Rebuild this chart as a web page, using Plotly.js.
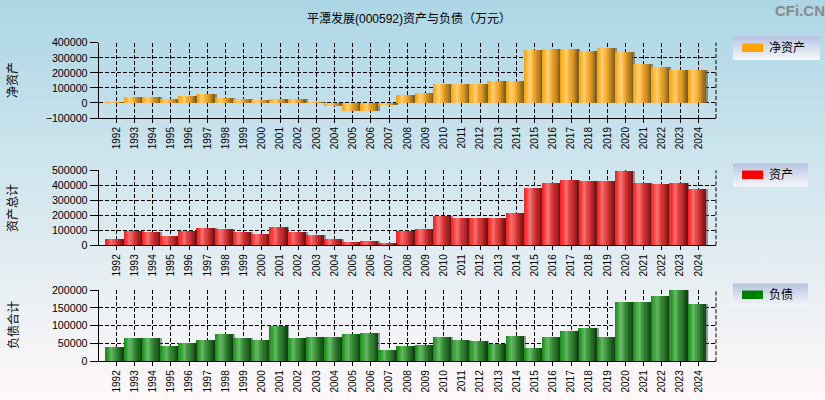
<!DOCTYPE html>
<html>
<head>
<meta charset="utf-8">
<script src="https://cdn.plot.ly/plotly-3.0.1.min.js"></script>
<style>html,body{margin:0;padding:0;background:#cfe5ee;}#chart{width:825px;height:400px;}</style>
</head>
<body>
<div id="chart"></div>
<script>
// ---- data (万元) ----
const years = ['1992','1993','1994','1995','1996','1997','1998','1999','2000','2001','2002',
  '2003','2004','2005','2006','2007','2008','2009','2010','2011','2012','2013','2014','2015',
  '2016','2017','2018','2019','2020','2021','2022','2023','2024'];
const netAssets = [8000, 38000, 38000, 29000, 49000, 62000, 36000, 29000, 22000, 29000, 29000,
  9000, -20000, -53000, -53000, -13000, 55000, 69000, 129000, 129000, 129000, 144000, 149000, 349000,
  356000, 356000, 342000, 362000, 336000, 256000, 236000, 222000, 222000];
const totalAssets = [42000, 96000, 89000, 62000, 98000, 116000, 109000, 89000, 76000, 122000, 89000,
  69000, 42000, 22000, 29000, 16000, 96000, 109000, 196000, 182000, 182000, 182000, 216000, 382000,
  416000, 436000, 429000, 429000, 496000, 416000, 409000, 416000, 376000];
const totalLiabilities = [40000, 65400, 65400, 43000, 51400, 59800, 76600, 65400, 59800, 100000, 65400,
  68200, 68200, 76600, 79400, 31800, 43000, 45800, 68200, 59800, 57000, 48600, 71000, 37400,
  68200, 85000, 93500, 68200, 166000, 166000, 183000, 200000, 160700];
const seriesNames = ['净资产', '资产', '负债'];
const axisTitles = ['净资产', '资产总计', '负债合计'];
const chartTitle = '平潭发展(000592)资产与负债（万元）';

// ---- styling ----
const W = 825, H = 400;
const px = v => v / W;            // x pixel -> paper
const py = v => 1 - v / H;        // y pixel -> paper
const FONT = 'Liberation Sans, Arial, Noto Sans CJK SC, sans-serif';
const CJK = 'Liberation Sans, Noto Sans CJK SC, sans-serif';

const gradients = [
  [[0,'#f7a000'],[0.14,'#ffb22a'],[0.32,'#ffd27c'],[0.5,'#fbb034'],[0.7,'#d49424'],[0.87,'#a47828'],[1,'#765818']],
  [[0,'#ff1c1c'],[0.14,'#ff3434'],[0.32,'#f57878'],[0.5,'#e84444'],[0.7,'#c02c2c'],[0.87,'#942020'],[1,'#6a1010']],
  [[0,'#0e900e'],[0.14,'#2ea02e'],[0.34,'#6cb66c'],[0.52,'#3c963c'],[0.72,'#2a742a'],[0.88,'#1e561e'],[1,'#133a13']]
];
const swatchColors = ['#ffa500', '#ff0000', '#008000'];

function hex2rgb(h){return [parseInt(h.slice(1,3),16),parseInt(h.slice(3,5),16),parseInt(h.slice(5,7),16)];}
function colorAt(stops, t){
  for (let i = 1; i < stops.length; i++) {
    if (t <= stops[i][0]) {
      const a = stops[i-1], b = stops[i];
      const f = (t - a[0]) / (b[0] - a[0]);
      const ca = hex2rgb(a[1]), cb = hex2rgb(b[1]);
      const c = ca.map((v,k) => Math.round(v + (cb[k]-v)*f));
      return 'rgb(' + c.join(',') + ')';
    }
  }
  return stops[stops.length-1][1];
}

const panels = [
  {values: netAssets,        xa: 'x',  ya: 'y',  dom: [py(118), py(42.7)],  range: [-100000, 400000], dtick: 100000},
  {values: totalAssets,      xa: 'x2', ya: 'y2', dom: [py(245.3), py(170.3)], range: [0, 500000], dtick: 100000},
  {values: totalLiabilities, xa: 'x3', ya: 'y3', dom: [py(361.3), py(290)],   range: [0, 200000], dtick: 50000}
];

const K = 16;
const BAR_OFFSET = -0.6;
const traces = [];
panels.forEach((p, pi) => {
  // shadow
  traces.push({
    type: 'bar', x: years, y: p.values, xaxis: p.xa, yaxis: p.ya,
    offset: BAR_OFFSET + 0.11, width: 1.0,
    marker: {color: 'rgba(70,80,90,0.55)', line: {width: 0}},
    showlegend: false, hoverinfo: 'skip'
  });
  for (let i = 0; i < K; i++) {
    const t = (i + 0.5) / K;
    traces.push({
      type: 'bar', x: years, y: p.values, xaxis: p.xa, yaxis: p.ya,
      name: seriesNames[pi],
      offset: BAR_OFFSET + i / K, width: 1 / K + 0.012,
      marker: {color: colorAt(gradients[pi], t), line: {width: 0}},
      showlegend: false, hoverinfo: 'skip'
    });
  }
});

const xDomain = [px(98.7), px(716)];
function xAxis(){
  return {
    type: 'category', range: [-0.97, 32.97], domain: xDomain,
    tickangle: -90, tickfont: {family: FONT, size: 10, color: '#000'},
    showgrid: true, gridcolor: '#000', griddash: '4px,2px', gridwidth: 1,
    showline: true, linecolor: '#000', linewidth: 1,
    ticks: 'outside', ticklen: 4, tickcolor: '#000', tickwidth: 1,
    automargin: false, fixedrange: true
  };
}
function yAxis(p){
  return {
    domain: p.dom, anchor: p.xa, range: p.range, dtick: p.dtick, tick0: 0,
    tickformat: 'd', tickfont: {family: FONT, size: 10.7, color: '#000'},
    showgrid: true, gridcolor: '#000', griddash: '4px,2px', gridwidth: 1,
    zeroline: false, showline: true, linecolor: '#000', linewidth: 1,
    ticks: 'outside', ticklen: 8, tickcolor: '#000', tickwidth: 1,
    automargin: false, fixedrange: true
  };
}

const bgSvg = "<svg xmlns='http://www.w3.org/2000/svg' width='100' height='100' viewBox='0 0 100 100' preserveAspectRatio='none'>" +
  "<defs><linearGradient id='g' x1='0' y1='0' x2='0' y2='1'><stop offset='0' stop-color='#acd6e5'/>" +
  "<stop offset='0.5' stop-color='#d6e8ef'/><stop offset='1' stop-color='#fff8f8'/></linearGradient></defs>" +
  "<rect width='100' height='100' fill='url(#g)'/></svg>";
const legSvg = "<svg xmlns='http://www.w3.org/2000/svg' width='100' height='100' viewBox='0 0 100 100' preserveAspectRatio='none'>" +
  "<defs><linearGradient id='g' x1='0' y1='0' x2='0' y2='1'><stop offset='0' stop-color='#b6c4e0'/>" +
  "<stop offset='1' stop-color='#f7f7fb'/></linearGradient></defs>" +
  "<rect width='100' height='100' fill='url(#g)'/></svg>";
const uri = s => 'data:image/svg+xml;charset=utf-8,' + encodeURIComponent(s);

// legend boxes (pixel layout)
const legendBoxes = [
  {x0: 733, x1: 820, y0: 36,    y1: 60,    sy0: 43.5,  sy1: 52,    ty: 48},
  {x0: 733, x1: 808, y0: 163.3, y1: 186.7, sy0: 170.5, sy1: 179,   ty: 175},
  {x0: 733, x1: 808, y0: 283.3, y1: 306.7, sy0: 290.5, sy1: 299,   ty: 295}
];

const images = [{source: uri(bgSvg), xref: 'paper', yref: 'paper', x: 0, y: 1, sizex: 1, sizey: 1,
  sizing: 'stretch', xanchor: 'left', yanchor: 'top', layer: 'below'}];
const shapes = [];
const annotations = [];

legendBoxes.forEach((b, i) => {
  images.push({source: uri(legSvg), xref: 'paper', yref: 'paper', x: px(b.x0), y: py(b.y0),
    sizex: px(b.x1 - b.x0), sizey: (b.y1 - b.y0) / H, sizing: 'stretch',
    xanchor: 'left', yanchor: 'top', layer: 'below'});
  shapes.push({type: 'rect', xref: 'paper', yref: 'paper', x0: px(742), x1: px(763),
    y0: py(b.sy1), y1: py(b.sy0), fillcolor: swatchColors[i], line: {width: 0}});
  annotations.push({xref: 'paper', yref: 'paper', x: px(767), y: py(b.ty), xanchor: 'left', yanchor: 'middle',
    text: seriesNames[i], showarrow: false, font: {family: CJK, size: 12, color: '#000'}});
});

// right-edge dashed boundary of each plot
panels.forEach((p) => {
  shapes.push({type: 'line', xref: p.xa + ' domain', yref: p.ya + ' domain', x0: 1, x1: 1, y0: 0, y1: 1,
    line: {color: '#000', width: 1, dash: '4px,2px'}});
});

// axis titles
const titleY = [80, 208, 325];
axisTitles.forEach((t, i) => {
  annotations.push({xref: 'paper', yref: 'paper', x: px(13), y: py(titleY[i]), xanchor: 'center', yanchor: 'middle',
    text: t, textangle: -90, showarrow: false, font: {family: CJK, size: 12, color: '#000'}});
});

// chart title & watermark
annotations.push({xref: 'paper', yref: 'paper', x: px(409), y: py(18), xanchor: 'center', yanchor: 'middle',
  text: chartTitle, showarrow: false, font: {family: CJK, size: 12, color: '#000'}});
annotations.push({xref: 'paper', yref: 'paper', x: px(800), y: py(10), xanchor: 'center', yanchor: 'middle',
  text: '<b>CFi.CN</b>', showarrow: false, font: {family: FONT, size: 15, color: '#8a8a8a'}});

const layout = {
  width: W, height: H,
  margin: {l: 0, r: 0, t: 0, b: 0, pad: 0},
  paper_bgcolor: '#cfe5ee', plot_bgcolor: 'rgba(0,0,0,0)',
  barmode: 'overlay', bargap: 0,
  showlegend: false, hovermode: false,
  xaxis: xAxis(), xaxis2: Object.assign(xAxis(), {anchor: 'y2'}), xaxis3: Object.assign(xAxis(), {anchor: 'y3'}),
  yaxis: yAxis(panels[0]), yaxis2: yAxis(panels[1]), yaxis3: yAxis(panels[2]),
  images: images, shapes: shapes, annotations: annotations
};
layout.xaxis.anchor = 'y';

Plotly.newPlot('chart', traces, layout, {staticPlot: true, displayModeBar: false});
</script>
</body>
</html>
